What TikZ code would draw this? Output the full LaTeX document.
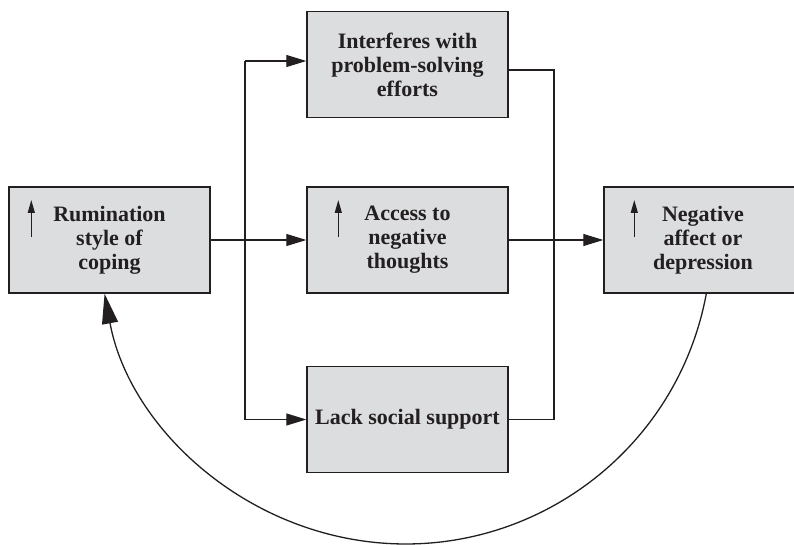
\documentclass[tikz,border=0pt]{standalone}
\usepackage{fontspec}
\setmainfont{Liberation Serif}
\usetikzlibrary{arrows.meta, positioning, calc}
\definecolor{boxfill}{RGB}{220,221,223}
\definecolor{inkdark}{RGB}{35,31,32}

\tikzset{
  box/.style={draw=inkdark, line width=1.4pt, fill=boxfill, minimum width=201pt,
    minimum height=106pt, align=center, inner sep=0pt, text=inkdark,
    font=\fontsize{22}{24}\selectfont\bfseries},
  link/.style={line width=1.1pt, draw=inkdark},
  flow/.style={link, -{Triangle[length=20pt,width=12pt]}},
  back/.style={line width=1.3pt, draw=inkdark, -{Triangle[length=30pt,width=16pt]}},
  rise/.style={line width=1.2pt, draw=inkdark, -{Triangle[length=13pt,width=7pt]}}
}

\begin{document}
\begin{tikzpicture}[x=1pt, y=1pt]
  \clip (0,0) rectangle (794,-545);
  % boxes
  \node[box] (rum) at (109.5,-240) {Rumination\\style of\\coping};
  \node[box] (top) at (407.5,-64.5) {Interferes with\\problem-solving\\efforts};
  \node[box] (mid) at (407.5,-240) {Access to\\negative\\thoughts};
  \node[box] (bot) at (407.5,-419.5) {Lack social support};
  \node[box, minimum width=198pt] (neg) at (703,-240) {Negative\\affect or\\depression};
  % small up arrows
  \draw[rise] ($(rum.west)+(23,3)$) -- ++(0,37);
  \draw[rise] ($(mid.west)+(32,3)$) -- ++(0,37);
  \draw[rise] ($(neg.west)+(31,3)$) -- ++(0,37);
  % connectors
  \coordinate (split) at (245,-240);
  \coordinate (join) at (554,-240);
  \coordinate (topin) at ($(top.west)+(0,3.5)$);
  \coordinate (topout) at ($(top.east)+(0,-5.5)$);
  \draw[flow] (rum) -- (mid);
  \draw[flow] (mid) -- (neg);
  \draw[link] (topin -| split) -- (bot.west -| split);
  \draw[flow] (topin -| split) -- (topin);
  \draw[flow] (bot.west -| split) -- (bot);
  \draw[link] (topout) -- (topout -| join) -- (bot.east -| join) -- (bot.east);
  % feedback loop
  \draw[back] ($(neg.south west)+(103,0)$) arc[start angle=-10.5, end angle=-169.5, radius=306];
\end{tikzpicture}
\end{document}
